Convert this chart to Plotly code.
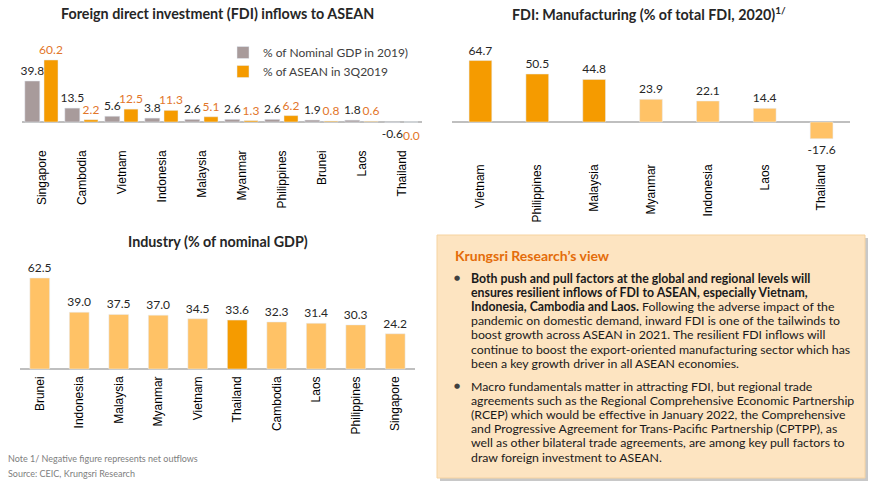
import plotly.graph_objects as go

W, H = 870, 487

# ---------------- data ----------------
fdi_countries = ["Singapore", "Cambodia", "Vietnam", "Indonesia", "Malaysia",
                 "Myanmar", "Philippines", "Brunei", "Laos", "Thailand"]
fdi_gdp = [39.8, 13.5, 5.6, 3.8, 2.6, 2.6, 2.6, 1.9, 1.8, -0.6]
fdi_asean = [60.2, 2.2, 12.5, 11.3, 5.1, 1.3, 6.2, 0.8, 0.6, 0.0]
fdi_series_names = ["% of Nominal GDP in 2019)", "% of ASEAN in 3Q2019"]

mfg_countries = ["Vietnam", "Philippines", "Malaysia", "Myanmar", "Indonesia", "Laos", "Thailand"]
mfg_share = [64.7, 50.5, 44.8, 23.9, 22.1, 14.4, -17.6]
mfg_highlight = [True, True, True, False, False, False, False]

ind_countries = ["Brunei", "Indonesia", "Malaysia", "Myanmar", "Vietnam", "Thailand",
                 "Cambodia", "Laos", "Philippines", "Singapore"]
ind_share = [62.5, 39.0, 37.5, 37.0, 34.5, 33.6, 32.3, 31.4, 30.3, 24.2]
ind_highlight = [c == "Thailand" for c in ind_countries]

titles = ["Foreign direct investment (FDI) inflows to ASEAN",
          "FDI: Manufacturing (% of total FDI, 2020)<sup>1/</sup>",
          "Industry (% of nominal GDP)"]
notes = ["Note 1/ Negative figure represents net outflows",
         "Source: CEIC, Krungsri Research"]
view_title = "Krungsri Research\u2019s view"
bullet1 = [
    "<b>Both push and pull factors at the global and regional levels will</b>",
    "<b>ensures resilient inflows of FDI to ASEAN, especially Vietnam,</b>",
    "<b>Indonesia, Cambodia and Laos.</b> Following the adverse impact of the",
    "pandemic on domestic demand, inward FDI is one of the tailwinds to",
    "boost growth across ASEAN in 2021. The resilient FDI inflows will",
    "continue to boost the export-oriented manufacturing sector which has",
    "been a key growth driver in all ASEAN economies.",
]
bullet2 = [
    "Macro fundamentals matter in attracting FDI, but regional trade",
    "agreements such as the Regional Comprehensive Economic Partnership",
    "(RCEP) which would be effective in January 2022, the Comprehensive",
    "and Progressive Agreement for Trans-Pacific Partnership (CPTPP), as",
    "well as other bilateral trade agreements, are among key pull factors to",
    "draw foreign investment to ASEAN.",
]

# ---------------- styles ----------------
GRAY = "#A89B9B"
ORANGE = "#F59B00"
LIGHT = "#FFC266"
LBL_ORANGE = "#E2762A"
FONT = "Lato"
TICKFONT = dict(family="Liberation Sans, Arial", size=12, color="#000000")


def px(x):
    return x / W


def py(y):
    return 1 - y / H


def ydom(top, bottom, zero, ppu):
    return dict(domain=[py(bottom), py(top)],
                range=[-(bottom - zero) / ppu, (zero - top) / ppu])


fig = go.Figure()

# --- chart 1: grouped FDI ---
fig.add_trace(go.Bar(
    x=fdi_countries, y=fdi_gdp, name=fdi_series_names[0], marker_color=GRAY,
    width=0.375, offset=-0.43, text=[f"{v:.1f}" for v in fdi_gdp],
    textposition="outside", constraintext="none", cliponaxis=False,
    textfont=dict(family=FONT, size=12, color="#262626"),
    xaxis="x", yaxis="y"))
fig.add_trace(go.Bar(
    x=fdi_countries, y=fdi_asean, name=fdi_series_names[1], marker_color=ORANGE,
    width=0.35, offset=0.05, text=[f"{v:.1f}" for v in fdi_asean],
    textposition=["outside" if v != 0 else "none" for v in fdi_asean],
    constraintext="none", cliponaxis=False,
    textfont=dict(family=FONT, size=12, color=LBL_ORANGE),
    xaxis="x", yaxis="y"))

# --- chart 2: manufacturing ---
fig.add_trace(go.Bar(
    x=mfg_countries, y=mfg_share, showlegend=False,
    marker_color=[ORANGE if h else LIGHT for h in mfg_highlight],
    width=0.4, text=[f"{v:.1f}" for v in mfg_share],
    textposition="outside", constraintext="none", cliponaxis=False,
    textfont=dict(family=FONT, size=12, color="#262626"),
    xaxis="x2", yaxis="y2"))

# --- chart 3: industry ---
fig.add_trace(go.Bar(
    x=ind_countries, y=ind_share, showlegend=False,
    marker_color=[ORANGE if h else LIGHT for h in ind_highlight],
    width=0.5, text=[f"{v:.1f}" for v in ind_share],
    textposition="outside", constraintext="none", cliponaxis=False,
    textfont=dict(family=FONT, size=12, color="#262626"),
    xaxis="x3", yaxis="y3"))

xcommon = dict(tickangle=-90, tickfont=TICKFONT, showline=False, ticks="",
               showgrid=False, zeroline=False, fixedrange=True, automargin=False)
ycommon = dict(showticklabels=False, showgrid=False, zeroline=True,
               zerolinecolor="#BFBFBF", zerolinewidth=1.5, showline=False,
               fixedrange=True, automargin=False)


def note(text, x, y, font, xanchor="left", yanchor="middle"):
    return dict(text=text, x=px(x), y=py(y), xref="paper", yref="paper",
                xanchor=xanchor, yanchor=yanchor, showarrow=False, font=font)


annotations = []
# zero-valued orange label sits below the axis (as in the reference)
for c, v in zip(fdi_countries, fdi_asean):
    if v == 0:
        annotations.append(dict(text=f"{v:.1f}", x=c, y=v, xref="x", yref="y",
                                xanchor="center", yanchor="top", yshift=-4, xshift=9,
                                showarrow=False,
                                font=dict(family=FONT, size=12, color=LBL_ORANGE)))

TFONT = dict(family=FONT, size=14.3, color="#262626", weight=700)
annotations.append(note(titles[0], 218, 13, TFONT, "center"))
annotations.append(note(titles[1], 649, 13, TFONT, "center"))
annotations.append(note(titles[2], 218, 242, TFONT, "center"))
for n, yy in zip(notes, [458, 473]):
    annotations.append(note(n, 6, yy, dict(family=FONT, size=9, color="#808080")))

# text box
annotations.append(note(view_title, 453, 255, dict(family=FONT, size=14, color="#E46C0A", weight=700)))
LINE = 14.2
BFONT = dict(family=FONT, size=12.3, color="#1a1a1a")
for i, ln in enumerate(bullet1):
    annotations.append(note(ln, 469, 278 + i * LINE, BFONT))
for i, ln in enumerate(bullet2):
    annotations.append(note(ln, 469, 386 + i * LINE, BFONT))
for yy in [278, 386]:
    annotations.append(note("\u25CF", 457, yy, dict(family="DejaVu Sans", size=7, color="#404040"), "center"))

shapes = [
    dict(type="rect", xref="paper", yref="paper", x0=px(440), x1=px(868), y0=py(481), y1=py(238),
         fillcolor="#C8C8C8", line=dict(width=0), layer="below"),
    dict(type="rect", xref="paper", yref="paper", x0=px(437), x1=px(865), y0=py(478), y1=py(235),
         fillcolor="#FDE4C1", line=dict(color="#F6D3A0", width=1), layer="below"),
]

fig.update_layout(
    width=W, height=H, margin=dict(l=0, r=0, t=0, b=0, autoexpand=False),
    paper_bgcolor="white", plot_bgcolor="rgba(0,0,0,0)",
    barmode="overlay",
    xaxis=dict(domain=[px(22), px(422)], anchor="y", **xcommon),
    yaxis=dict(anchor="x", **ydom(30, 147, 122, 1.03), **ycommon),
    xaxis2=dict(domain=[px(452), px(850)], anchor="y2", **xcommon),
    yaxis2=dict(anchor="x2", **ydom(30, 161, 122, 0.95), **ycommon),
    xaxis3=dict(domain=[px(20), px(415)], anchor="y3", **xcommon),
    yaxis3=dict(anchor="x3", **ydom(262, 373, 369, 1.456), **ycommon),
    legend=dict(x=px(223), y=py(38), xanchor="left", yanchor="top",
                font=dict(family=FONT, size=12, color="#404040"),
                bgcolor="rgba(0,0,0,0)", tracegroupgap=0),
    annotations=annotations, shapes=shapes,
    showlegend=True,
)

fig.write_html("out.html", config={"displayModeBar": False},
               post_script="document.body.style.margin='0px';")
